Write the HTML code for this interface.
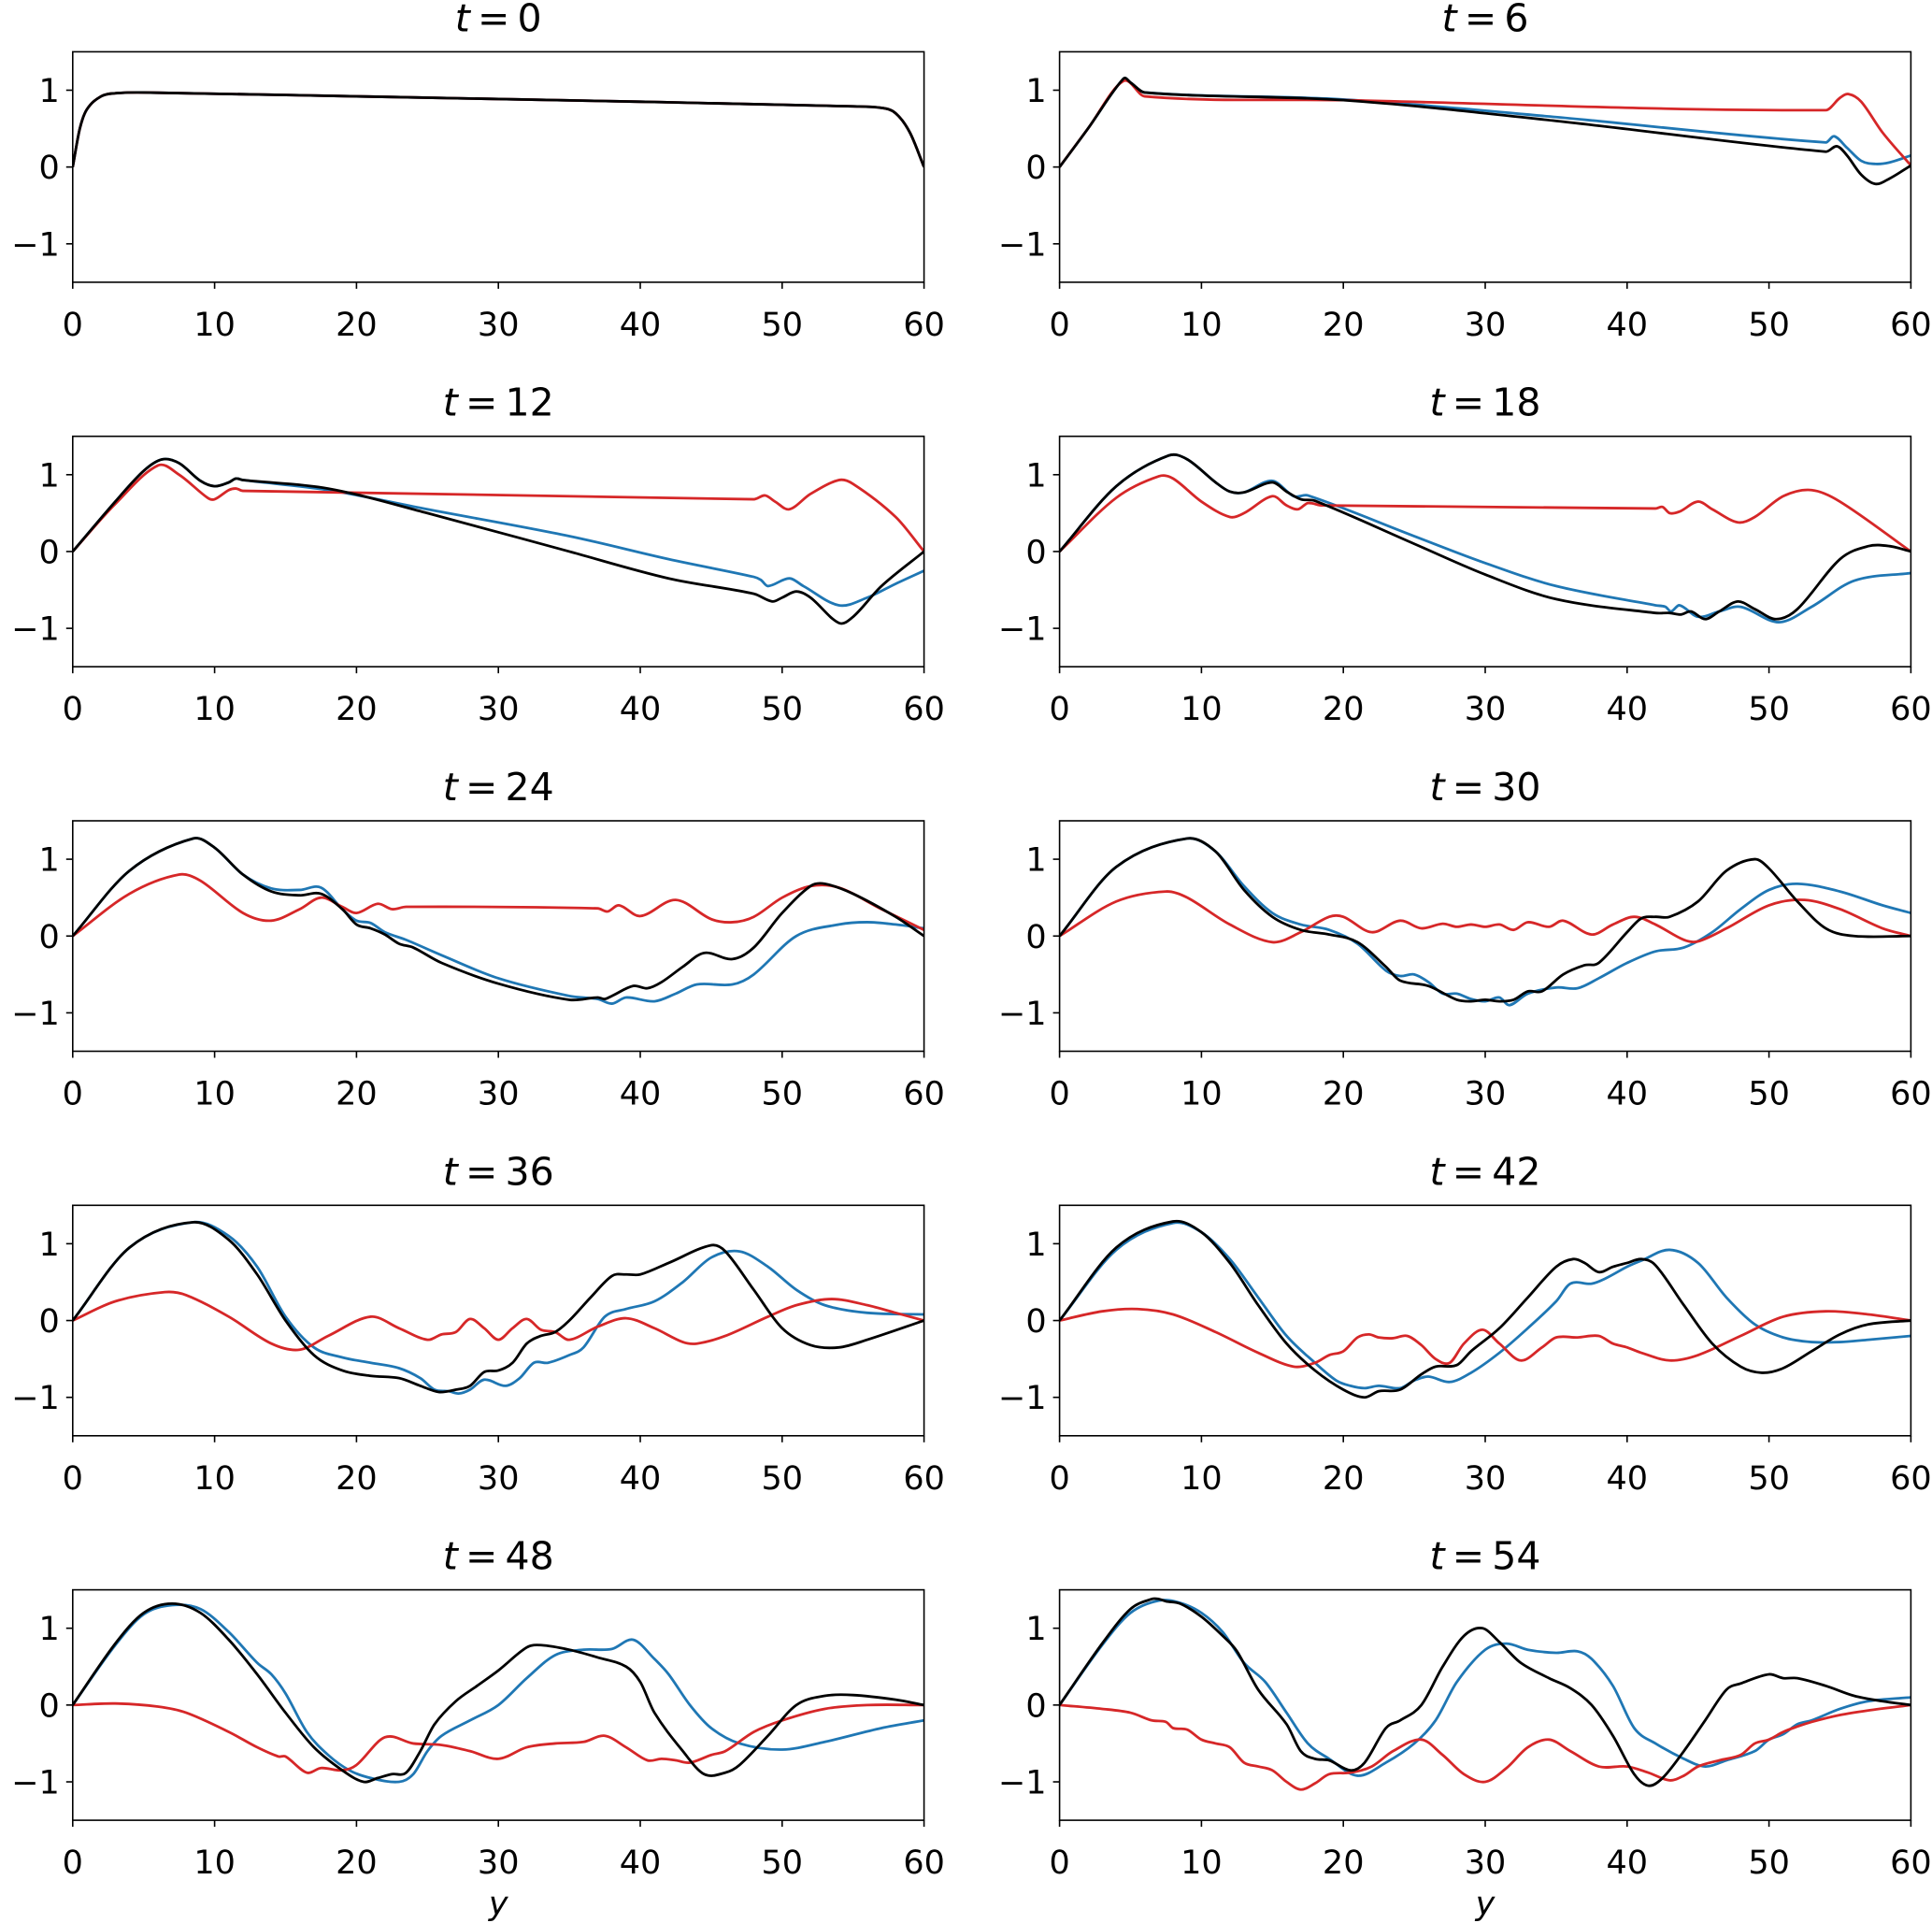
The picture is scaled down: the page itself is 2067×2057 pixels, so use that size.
<!DOCTYPE html>
<html><head><meta charset="utf-8"><style>
html,body{margin:0;padding:0;background:#fff;}
svg{display:block;font-family:"DejaVu Sans","Liberation Sans",sans-serif;}
</style></head><body>
<svg id="fig" width="2067" height="2057" viewBox="0 0 2067 2057" xmlns="http://www.w3.org/2000/svg"></svg>
<script>
const times=[0,6,12,18,24,30,36,42,48,54];
const xTicks=[0,10,20,30,40,50,60];
const yTicks=[-1,0,1];
const k0=[[0,0],[0.5,0.5],[1,0.75],[2,0.92],[3,0.96],[5,0.97],[20,0.92],[40,0.85],[55,0.79],[57,0.77],[58,0.7],[59,0.45],[60,0]];
const black=[
k0,
[[0,0],[2,0.5],[4.5,1.15],[5,1.1],[6,0.97],[20,0.87],[35,0.6],[54,0.2],[54.8,0.27],[55.5,0.15],[56.5,-0.1],[57.5,-0.22],[58.5,-0.15],[60,0.02]],
[[0,0],[3,0.65],[5,1.05],[6.3,1.2],[7.5,1.15],[9,0.92],[10,0.85],[11,0.9],[11.5,0.95],[12,0.93],[18,0.82],[25,0.5],[35,0],[42,-0.35],[48,-0.55],[49.3,-0.65],[50,-0.6],[51,-0.52],[52,-0.6],[54,-0.93],[55,-0.85],[57,-0.45],[60,0]],
[[0,0],[4,0.85],[7.7,1.25],[9,1.2],[11,0.9],[12,0.78],[13,0.77],[15,0.9],[16,0.78],[17,0.68],[18,0.66],[25,0.1],[30,-0.3],[35,-0.62],[42,-0.8],[43,-0.8],[43.8,-0.82],[44.5,-0.78],[45.5,-0.88],[46.5,-0.78],[47.8,-0.65],[49,-0.75],[50.5,-0.88],[52,-0.75],[55,-0.1],[57,0.07],[58.5,0.07],[60,0]],
[[0,0],[4,0.85],[8.5,1.27],[10,1.15],[12,0.8],[14,0.58],[16,0.53],[17.5,0.55],[19,0.35],[20,0.15],[21,0.1],[22,0.02],[23,-0.1],[24,-0.15],[26,-0.35],[30,-0.62],[35,-0.83],[37,-0.8],[37.5,-0.82],[38,-0.78],[39.5,-0.65],[40.5,-0.68],[41.5,-0.6],[43,-0.4],[44.5,-0.22],[46.5,-0.3],[48,-0.15],[50,0.3],[52,0.65],[53,0.68],[55,0.55],[58,0.25],[60,0]],
[[0,0],[4,0.9],[9,1.27],[11,1.1],[13,0.6],[15,0.25],[17,0.08],[19,0.02],[21,-0.08],[23,-0.4],[24,-0.58],[26,-0.65],[28,-0.83],[29,-0.85],[30,-0.83],[31,-0.85],[32,-0.83],[33,-0.72],[34,-0.72],[35.5,-0.5],[37,-0.38],[38,-0.35],[40,0.05],[41,0.23],[42,0.25],[43,0.25],[45,0.45],[47,0.85],[49,1.0],[50,0.88],[52,0.45],[54,0.1],[56,0.0],[60,0]],
[[0,0],[4,0.95],[8.5,1.28],[11,1.05],[13,0.6],[15,0],[17,-0.45],[19,-0.65],[21,-0.72],[23,-0.75],[24.5,-0.85],[25.8,-0.93],[27,-0.9],[28,-0.85],[29,-0.67],[30,-0.65],[31,-0.55],[32,-0.3],[33,-0.2],[34,-0.15],[35,0],[36.5,0.3],[38,0.58],[39,0.6],[40,0.6],[42,0.75],[45,0.98],[46,0.9],[48,0.4],[50,-0.1],[52,-0.32],[54,-0.35],[56,-0.25],[60,0]],
[[0,0],[4,0.95],[8,1.29],[10,1.15],[12,0.75],[14,0.2],[16,-0.3],[18,-0.65],[20,-0.9],[21.5,-1.0],[22.5,-0.92],[24,-0.9],[25.5,-0.7],[26.5,-0.6],[28,-0.58],[29,-0.4],[31,-0.1],[33,0.3],[35,0.7],[36.2,0.8],[37,0.75],[38,0.63],[39,0.7],[40,0.75],[41,0.8],[42,0.72],[44,0.2],[46,-0.3],[48,-0.6],[49.5,-0.68],[51,-0.62],[53,-0.4],[55,-0.18],[57,-0.05],[60,0]],
[[0,0],[3,0.8],[5,1.2],[7,1.32],[9,1.2],[11,0.85],[13,0.4],[15,-0.1],[17,-0.55],[19,-0.85],[20.5,-1.0],[21.5,-0.95],[22.5,-0.9],[23.5,-0.88],[24.5,-0.6],[25.5,-0.25],[27,0.05],[28.5,0.25],[30,0.45],[32,0.75],[33,0.78],[35,0.72],[37,0.62],[39,0.5],[40,0.3],[41,-0.1],[43,-0.6],[44.5,-0.9],[46,-0.88],[47,-0.78],[49,-0.4],[51,0],[53,0.12],[55,0.13],[58,0.07],[60,0]],
[[0,0],[3,0.8],[5,1.25],[6.5,1.38],[7,1.38],[7.5,1.35],[8.5,1.32],[10,1.15],[11.5,0.9],[12.5,0.7],[14,0.2],[16,-0.25],[17,-0.6],[18,-0.7],[19,-0.72],[20.5,-0.85],[21.5,-0.75],[23,-0.3],[24,-0.2],[25.5,0],[27,0.5],[28.5,0.9],[29.8,1.0],[31,0.82],[32.5,0.55],[34.5,0.35],[36,0.22],[37.5,0],[39,-0.4],[40.5,-0.9],[41.5,-1.05],[42.5,-0.95],[44,-0.6],[45.5,-0.2],[47,0.2],[48,0.28],[50,0.4],[51,0.35],[52,0.35],[54,0.25],[56,0.12],[58,0.05],[60,0]]
];
const blue=[
k0,
[[0,0],[2,0.5],[4.5,1.15],[5,1.1],[6,0.97],[20,0.88],[35,0.65],[54,0.32],[54.6,0.4],[55.5,0.25],[56.5,0.08],[57.5,0.04],[58.5,0.06],[60,0.15]],
[[0,0],[3,0.65],[5,1.05],[6.3,1.2],[7.5,1.15],[9,0.92],[10,0.85],[11,0.9],[11.5,0.95],[12,0.93],[18,0.8],[25,0.55],[35,0.2],[42,-0.1],[48,-0.33],[48.5,-0.37],[49,-0.45],[50.5,-0.35],[51.5,-0.45],[54,-0.7],[56,-0.6],[58,-0.42],[60,-0.25]],
[[0,0],[4,0.85],[7.7,1.25],[9,1.2],[11,0.9],[12,0.78],[13,0.77],[15,0.92],[16.5,0.72],[17.5,0.73],[25,0.2],[30,-0.15],[35,-0.45],[42,-0.7],[42.7,-0.72],[43.1,-0.78],[43.7,-0.7],[45,-0.85],[46.5,-0.78],[48,-0.72],[50.7,-0.92],[53,-0.72],[56,-0.38],[60,-0.28]],
[[0,0],[4,0.85],[8.5,1.27],[10,1.15],[12,0.8],[14,0.62],[16,0.6],[17.5,0.63],[19,0.35],[20,0.2],[21,0.17],[22,0.05],[23.5,-0.05],[26,-0.25],[30,-0.55],[35,-0.78],[37,-0.82],[38,-0.88],[39,-0.8],[41,-0.85],[42.5,-0.75],[44,-0.63],[46.5,-0.63],[48,-0.5],[51,0],[54,0.15],[56,0.18],[58,0.15],[60,0.1]],
[[0,0],[4,0.9],[9,1.27],[11,1.1],[13,0.65],[15,0.3],[17,0.15],[19,0.08],[21,-0.1],[23,-0.45],[24,-0.52],[25,-0.5],[26,-0.6],[27,-0.75],[28,-0.75],[29,-0.82],[30,-0.85],[31,-0.8],[31.7,-0.9],[33,-0.75],[35,-0.67],[36.5,-0.68],[38,-0.55],[40,-0.35],[42,-0.2],[44,-0.15],[46,0.05],[48,0.35],[50,0.6],[52,0.68],[55,0.58],[58,0.4],[60,0.3]],
[[0,0],[4,0.95],[8.5,1.28],[11,1.1],[13,0.7],[15,0.05],[17,-0.35],[19,-0.48],[21,-0.55],[23,-0.62],[24.5,-0.75],[25.5,-0.9],[26.5,-0.92],[27.2,-0.95],[28,-0.9],[29,-0.77],[30.5,-0.85],[31.5,-0.75],[32.5,-0.55],[33.5,-0.55],[35,-0.45],[36,-0.35],[37.5,0.05],[39,0.15],[41,0.25],[43,0.5],[45,0.82],[47,0.9],[49,0.7],[51,0.4],[53,0.2],[56,0.1],[60,0.08]],
[[0,0],[4,0.92],[8,1.27],[10,1.15],[12,0.8],[14,0.3],[16,-0.2],[18,-0.55],[19.5,-0.78],[20.5,-0.85],[21.5,-0.88],[22.5,-0.85],[24,-0.88],[25,-0.78],[26,-0.73],[27.5,-0.8],[29,-0.68],[31,-0.42],[33,-0.1],[35,0.25],[36,0.48],[37.5,0.48],[38.5,0.55],[40,0.7],[41,0.78],[43,0.92],[45,0.75],[47,0.3],[49,-0.05],[51,-0.22],[53,-0.28],[55,-0.28],[57,-0.25],[60,-0.2]],
[[0,0],[3,0.78],[5,1.18],[7,1.3],[9,1.25],[11,0.95],[13,0.55],[14,0.4],[15,0.15],[16.5,-0.35],[18,-0.65],[19.5,-0.85],[21,-0.95],[23,-1.0],[24,-0.9],[25,-0.6],[26,-0.4],[28,-0.2],[30,0],[32,0.35],[34,0.65],[36,0.72],[38,0.73],[39.5,0.85],[41,0.6],[42,0.4],[43.5,0],[45,-0.3],[47,-0.5],[50,-0.58],[53,-0.48],[57,-0.3],[60,-0.2]],
[[0,0],[3,0.78],[5,1.2],[7,1.36],[8.5,1.33],[10,1.2],[11.5,0.95],[13,0.55],[14.5,0.3],[16,-0.1],[17.5,-0.5],[19,-0.7],[21,-0.92],[23,-0.75],[25,-0.5],[26.5,-0.2],[28,0.3],[30,0.72],[31.5,0.8],[33,0.72],[35,0.68],[36.5,0.7],[37.5,0.6],[39,0.25],[40.5,-0.3],[42,-0.5],[44,-0.7],[45.5,-0.8],[47,-0.72],[49,-0.6],[50,-0.45],[51,-0.38],[52,-0.25],[53,-0.2],[55,-0.05],[57,0.05],[60,0.1]]
];
const red=[
k0,
[[0,0],[2,0.5],[4.5,1.12],[6,0.92],[20,0.87],[54,0.74],[55,0.9],[55.6,0.95],[56.5,0.85],[58,0.45],[60,0.02]],
[[0,0],[3,0.62],[6,1.12],[7.5,1.0],[9.5,0.7],[10,0.68],[11,0.8],[11.5,0.82],[12,0.79],[48,0.68],[48.8,0.73],[49.5,0.65],[50.5,0.55],[52,0.75],[54,0.93],[55,0.88],[58,0.45],[60,0]],
[[0,0],[4,0.7],[7,0.98],[8,0.95],[10,0.65],[12,0.45],[13,0.5],[15,0.72],[16,0.6],[16.8,0.55],[17.5,0.63],[18.5,0.6],[42,0.56],[42.5,0.58],[43,0.5],[43.7,0.52],[45,0.65],[46,0.55],[47.8,0.38],[49,0.45],[51,0.72],[53,0.8],[55,0.65],[60,0]],
[[0,0],[4,0.55],[7.5,0.8],[9,0.72],[12,0.3],[14,0.2],[16,0.35],[17.5,0.5],[19,0.38],[20,0.3],[21.5,0.42],[22.5,0.35],[23.5,0.38],[37,0.36],[37.7,0.32],[38.5,0.4],[40,0.26],[42.5,0.47],[45,0.22],[46.5,0.18],[48,0.25],[50,0.5],[52,0.65],[54,0.63],[57,0.35],[60,0.08]],
[[0,0],[4,0.45],[7.5,0.58],[9,0.5],[12,0.15],[15,-0.08],[17,0.05],[19,0.25],[20,0.25],[22,0.05],[24,0.2],[25.5,0.1],[27,0.16],[28,0.12],[29,0.15],[30,0.12],[31,0.15],[32,0.08],[33,0.18],[34.5,0.12],[35.5,0.2],[37.5,0.02],[39,0.15],[40.5,0.25],[42,0.15],[44,-0.05],[45,-0.07],[47,0.1],[50,0.4],[52.5,0.47],[55,0.35],[58,0.1],[60,0]],
[[0,0],[3,0.25],[6.5,0.37],[8,0.33],[11,0.05],[14,-0.3],[16,-0.38],[18,-0.2],[21,0.05],[23,-0.1],[25,-0.25],[26,-0.18],[27,-0.15],[28,0.02],[29,-0.1],[30,-0.25],[31,-0.1],[32,0.02],[33,-0.12],[34,-0.15],[35,-0.25],[37,-0.08],[39,0.03],[41,-0.1],[43,-0.28],[44,-0.3],[46,-0.2],[49,0.05],[51,0.2],[53.5,0.28],[56,0.2],[58,0.1],[60,0]],
[[0,0],[3,0.12],[5.5,0.15],[8,0.08],[11,-0.15],[14,-0.42],[16.5,-0.6],[18,-0.55],[19,-0.45],[20,-0.4],[21,-0.22],[21.8,-0.18],[22.5,-0.22],[23.5,-0.23],[24.5,-0.2],[25.5,-0.32],[26.5,-0.5],[27.5,-0.55],[28.5,-0.3],[29.8,-0.12],[31,-0.3],[32.5,-0.52],[34,-0.35],[35,-0.22],[36.5,-0.22],[38,-0.2],[39,-0.3],[40,-0.35],[41,-0.42],[43,-0.52],[45,-0.45],[48,-0.2],[51,0.05],[54,0.12],[57,0.08],[60,0]],
[[0,0],[3,0.02],[6,-0.02],[8,-0.1],[11,-0.35],[13,-0.55],[14.5,-0.67],[15,-0.67],[16.5,-0.88],[17.5,-0.82],[19,-0.85],[20,-0.78],[22,-0.42],[24,-0.5],[26,-0.52],[28,-0.6],[30,-0.7],[32,-0.55],[34,-0.5],[36,-0.48],[37.5,-0.4],[39,-0.55],[40.5,-0.72],[41.5,-0.7],[42.5,-0.72],[43.5,-0.75],[45,-0.65],[46,-0.6],[48,-0.35],[50,-0.2],[53,-0.05],[56,0],[60,0]],
[[0,0],[3,-0.05],[5,-0.1],[6.5,-0.2],[7.5,-0.22],[8,-0.3],[9,-0.32],[10,-0.45],[11,-0.5],[12,-0.55],[13,-0.75],[14,-0.8],[15,-0.85],[16,-1.0],[17,-1.1],[18,-1.02],[19,-0.9],[20.5,-0.88],[22,-0.8],[23.5,-0.6],[25.5,-0.45],[27,-0.65],[28.5,-0.9],[30,-1.0],[31.5,-0.82],[33,-0.55],[34.5,-0.45],[36,-0.6],[38,-0.8],[40,-0.8],[41.5,-0.88],[43,-0.98],[44,-0.92],[45,-0.8],[46.5,-0.72],[48,-0.65],[49,-0.5],[50,-0.45],[51,-0.35],[52,-0.28],[53,-0.22],[55,-0.13],[57,-0.07],[60,0]]
];

const NS='http://www.w3.org/2000/svg';
const svg=document.getElementById('fig');
const colX=[77.8,1133.6], W=910.8, rowY=[55.4,466.7,878,1289.3,1700.6], H=246.5;
function mk(tag,attrs,parent){const e=document.createElementNS(NS,tag);for(const k in attrs)e.setAttribute(k,attrs[k]);parent.appendChild(e);return e;}
// cubic Hermite in x (no loops): slopes from neighbouring points
function smooth(pts){
  const n=pts.length, m=[];
  for(let i=0;i<n;i++){
    const a=pts[Math.max(0,i-1)], b=pts[Math.min(n-1,i+1)];
    m.push((b[1]-a[1])/(b[0]-a[0]));
  }
  let d='M'+pts[0][0].toFixed(2)+','+pts[0][1].toFixed(2);
  for(let i=0;i<n-1;i++){
    const p1=pts[i],p2=pts[i+1],dx=(p2[0]-p1[0])/3;
    d+='C'+(p1[0]+dx).toFixed(2)+','+(p1[1]+m[i]*dx).toFixed(2)+' '+(p2[0]-dx).toFixed(2)+','+(p2[1]-m[i+1]*dx).toFixed(2)+' '+p2[0].toFixed(2)+','+p2[1].toFixed(2);
  }
  return d;
}
times.forEach((t,i)=>{
  const x0=colX[i%2], y0=rowY[Math.floor(i/2)];
  const sx=v=>x0+v/60*W, sy=v=>y0+(1.5-v)/3*H;
  const g=mk('g',{},svg);
  
  
  const title=mk('text',{x:x0+W/2,y:y0-22,'text-anchor':'middle','font-size':41},g);
  
  
  const ti=mk('tspan',{'font-style':'italic'},title); ti.textContent='t';
  const tr=mk('tspan',{},title); tr.textContent='\u2009=\u2009'+t;
  const clip=mk('clipPath',{id:'c'+i},g); mk('rect',{x:x0,y:y0,width:W,height:H},clip);
  const lines=mk('g',{'clip-path':'url(#c'+i+')'},g);
  [[blue[i],'#1f77b4','blue-series'],[red[i],'#d62728','red-series'],[black[i],'#000','black-series']].forEach(([data,col,nm])=>{
    const p=mk('path',{d:smooth(data.map(q=>[sx(q[0]),sy(q[1])])),fill:'none',stroke:col,'stroke-width':2.8,'stroke-linejoin':'round'},lines);
    
    
  });
  const fr=mk('rect',{x:x0,y:y0,width:W,height:H,fill:'none',stroke:'#000','stroke-width':1.6},g);
  
  
  xTicks.forEach(v=>{
    mk('line',{x1:sx(v),x2:sx(v),y1:y0+H,y2:y0+H+7,stroke:'#000','stroke-width':1.6},g);
    const tx=mk('text',{x:sx(v),y:y0+H+57,'text-anchor':'middle','font-size':35},g);
    
    
    tx.textContent=v;
  });
  yTicks.forEach(v=>{
    mk('line',{x1:x0-7,x2:x0,y1:sy(v),y2:sy(v),stroke:'#000','stroke-width':1.6},g);
    const ty=mk('text',{x:x0-14,y:sy(v)+12.5,'text-anchor':'end','font-size':35},g);
    
    
    ty.textContent=v<0?'\u2212'+Math.abs(v):String(v);
  });
  if(i>=8){
    const xl=mk('text',{x:x0+W/2,y:2048,'text-anchor':'middle','font-size':35,'font-style':'italic'},g);
    
    
    xl.textContent='y';
  }
});
</script>
</body></html>
